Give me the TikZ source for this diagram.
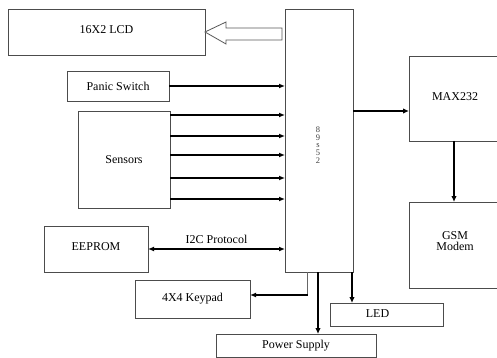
\documentclass[tikz,border=0pt]{standalone}
\usepackage{fontspec}
\setmainfont{Liberation Serif}
\usetikzlibrary{arrows.meta,calc}
\begin{document}
\begin{tikzpicture}[x=1pt,y=-1pt,
  box/.style={draw=black!70, line width=0.9pt, inner sep=0pt, outer sep=0pt, anchor=north west, font=\fontsize{12}{13}\selectfont, fill=white},
  arr/.style={line width=1.3pt, -{Latex[length=6pt,width=5pt]}},
  tarr/.style={line width=1.8pt, -{Latex[length=6pt,width=5.5pt]}}]
\useasboundingbox[fill=white] (0,0) rectangle (497,358);
% boxes
\node[box, minimum width=197pt, minimum height=46pt] (lcd) at (8,9) {\raisebox{4pt}{16X2 LCD}};
\node[box, minimum width=68pt, minimum height=263pt] (mcu) at (285,9) {};
\node[font=\fontsize{8.5}{7.8}\selectfont, align=center, text=black!75] (mcutext) at (318,145) {8\\9\\s\\5\\2};
\node[box, minimum width=92pt, minimum height=85pt] (max) at (409,56) {\raisebox{4pt}{MAX232}};
\node[box, minimum width=92pt, minimum height=86pt, align=center] (gsm) at (409,202) {\raisebox{8pt}{\shortstack{GSM\\[-1pt]Modem}}};
\node[box, minimum width=102pt, minimum height=30pt] (panic) at (67,71) {Panic Switch};
\node[box, minimum width=92pt, minimum height=97pt] (sensors) at (78,111) {\raisebox{-3pt}{Sensors}};
\node[box, minimum width=104pt, minimum height=46pt] (eeprom) at (44,226) {\raisebox{5pt}{EEPROM}};
\node[box, minimum width=115pt, minimum height=38pt] (keypad) at (135,280) {4X4 Keypad};
\node[box, minimum width=160pt, minimum height=23pt] (power) at (216,334) {\raisebox{2pt}{Power Supply}};
\node[box, minimum width=113pt, minimum height=23pt] (led) at (330,303) {\hspace*{-18pt}\raisebox{1pt}{LED}};
% hollow arrow to LCD
\draw[draw=black!65, line width=0.8pt, fill=white]
  (lcd.east) -- ++(21,-10) -- ++(0,6) -- ($(mcu.west |- lcd.east)+(-3,-4)$) -- ++(0,12) -- ($(lcd.east)+(21,8)$) -- ++(0,4) -- cycle;
% panic switch
\draw[arr] (panic.east) -- (mcu.west |- panic.east);
% sensors
\foreach \yy/\w in {115/1.9pt,136/1.3pt,155/1.3pt,178/1.3pt,199/1.3pt}{
  \coordinate (s\yy) at (0,\yy);
  \draw[arr, line width=\w] (sensors.east |- s\yy) -- (mcu.west |- s\yy);
}
% I2C
\coordinate (i2c) at (0,249);
\draw[line width=1.2pt, {Latex[length=6pt,width=5pt]}-{Latex[length=6pt,width=5pt]}] (mcu.west |- i2c) -- node[above=1pt, font=\fontsize{12}{13}\selectfont] (i2clabel) {I2C Protocol} (eeprom.east |- i2c);
% MAX232
\coordinate (mx) at (0,111);
\draw[tarr] (mcu.east |- mx) -- (max.west |- mx);
\coordinate (gx) at (454,0);
\draw[tarr] (max.south -| gx) -- (gsm.north -| gx);
% keypad
\coordinate (kx) at (307,0);
\coordinate (ky) at (0,295);
\coordinate (kcorner) at (kx |- ky);
\draw[line width=1pt, black!60] (mcu.south -| kx) -- (kcorner);
\draw[line width=1.3pt, -{Latex[length=6pt,width=5pt]}] ([xshift=0.5pt]kcorner) -- (keypad.east |- ky);
% power
\coordinate (px) at (318,0);
\draw[tarr] (mcu.south -| px) -- (power.north -| px);
% LED
\coordinate (lx) at (352,0);
\draw[tarr] (mcu.south -| lx) -- (led.north -| lx);
\end{tikzpicture}
\end{document}
